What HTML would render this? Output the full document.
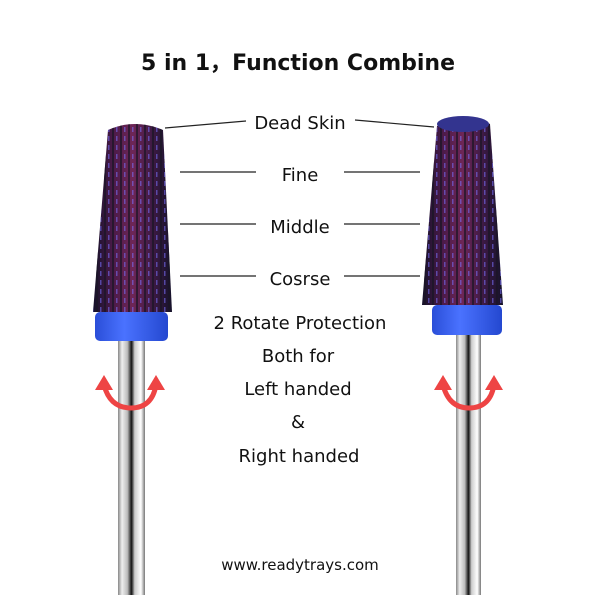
<!DOCTYPE html>
<html><head><style>
body{margin:0;background:#fff;}
svg{display:block}
text{font-family:"DejaVu Sans","Liberation Sans",sans-serif;fill:#111;}
</style></head><body>
<svg width="600" height="600" viewBox="0 0 600 600">
<defs>
<linearGradient id="bit" x1="0" x2="1">
<stop offset="0" stop-color="#15122a"/><stop offset="0.25" stop-color="#4a1a48"/><stop offset="0.5" stop-color="#6e2656"/><stop offset="0.75" stop-color="#3e1a44"/><stop offset="1" stop-color="#15122a"/></linearGradient>
<linearGradient id="shank" x1="0" x2="1">
<stop offset="0" stop-color="#888"/><stop offset="0.15" stop-color="#eee"/><stop offset="0.35" stop-color="#bbb"/><stop offset="0.5" stop-color="#111"/><stop offset="0.62" stop-color="#ccc"/><stop offset="0.85" stop-color="#fff"/><stop offset="1" stop-color="#777"/></linearGradient>
<linearGradient id="collar" x1="0" x2="1">
<stop offset="0" stop-color="#2a4ed8"/><stop offset="0.4" stop-color="#4a72ff"/><stop offset="1" stop-color="#2448d0"/></linearGradient>
<pattern id="ridge" width="8" height="9" patternUnits="userSpaceOnUse"><rect x="0" y="0" width="2" height="9" fill="#1a1525" opacity="0.7"/><rect x="4" y="1" width="1.5" height="5" fill="#7a70ff" opacity="0.55"/></pattern>
</defs>
<text x="298" y="70" font-size="22" font-weight="bold" text-anchor="middle">5 in 1，Function Combine</text>
<rect x="118" y="340" width="27" height="255" fill="url(#shank)"/>
<path d="M108 130 Q135 118 163 130 L172 312 L93 312 Z" fill="url(#bit)"/>
<path d="M108 130 Q135 118 163 130 L172 312 L93 312 Z" fill="url(#ridge)"/>
<rect x="95" y="312" width="73" height="29" rx="5" fill="url(#collar)"/>
<rect x="456" y="333" width="25" height="262" fill="url(#shank)"/>
<path d="M437 126 Q464 112 490 124 L503 305 L422 305 Z" fill="url(#bit)"/>
<path d="M437 126 Q464 112 490 124 L503 305 L422 305 Z" fill="url(#ridge)"/>
<ellipse cx="463" cy="124" rx="26" ry="8" fill="#33348f"/>
<rect x="432" y="305" width="70" height="30" rx="5" fill="url(#collar)"/>
<g fill="none" stroke="#ee4444" stroke-width="5">
<path d="M104 385 Q110 408 131 408 Q152 408 156 385"/>
<path d="M443 385 Q449 408 469 408 Q490 408 494 385"/>
</g>
<g fill="#ee4444">
<polygon points="95,390 104,375 113,390"/><polygon points="147,390 156,375 165,390"/>
<polygon points="434,390 443,375 452,390"/><polygon points="485,390 494,375 503,390"/>
</g>
<g stroke="#222" stroke-width="1.2">
<line x1="165" y1="128" x2="246" y2="121"/><line x1="355" y1="120" x2="434" y2="127"/>
<line x1="180" y1="172" x2="256" y2="172"/><line x1="344" y1="172" x2="420" y2="172"/>
<line x1="180" y1="224" x2="256" y2="224"/><line x1="344" y1="224" x2="420" y2="224"/>
<line x1="180" y1="276" x2="256" y2="276"/><line x1="344" y1="276" x2="420" y2="276"/>
</g>
<g font-size="18" text-anchor="middle">
<text x="300" y="129">Dead Skin</text>
<text x="300" y="181">Fine</text>
<text x="300" y="233">Middle</text>
<text x="300" y="285">Cosrse</text>
<text x="300" y="329">2 Rotate Protection</text>
<text x="298" y="362">Both for</text>
<text x="298" y="395">Left handed</text>
<text x="298" y="428">&amp;</text>
<text x="299" y="462">Right handed</text>
</g>
<text x="300" y="570" font-size="15" text-anchor="middle">www.readytrays.com</text>
</svg>
</body></html>
